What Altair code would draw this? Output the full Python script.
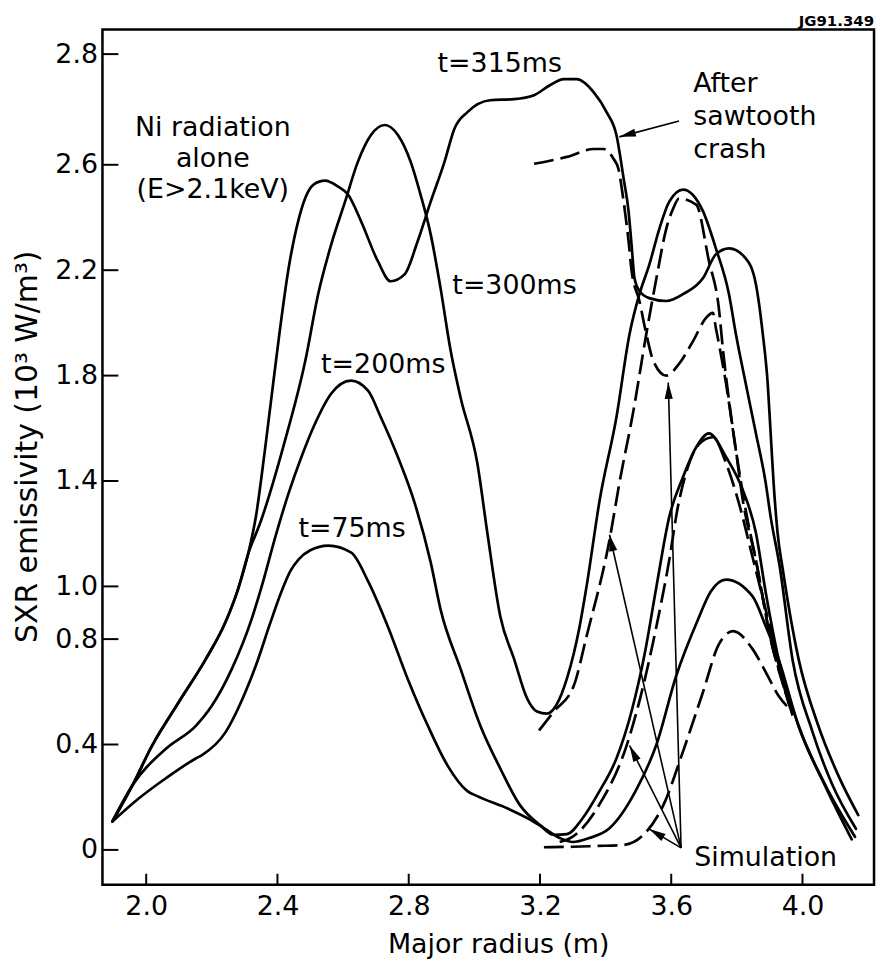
import math
import altair as alt
import pandas as pd

FONT = "DejaVu Sans"
FS = 27

# ---------------- axes ----------------
x_domain = [1.8667, 4.218]
y_domain = [-0.132, 3.113]
x_ticks = [2.0, 2.4, 2.8, 3.2, 3.6, 4.0]
y_ticks = [0, 0.4, 0.8, 1.0, 1.4, 1.8, 2.2, 2.6, 3.02]
y_tick_labels = ["0", "0.4", "0.8", "1.0", "1.4", "1.8", "2.2", "2.6", "2.8"]
W, H = 776, 860

# ---------------- measured curves (solid) ----------------
t75_x = [1.897, 1.978, 2.06, 2.151, 2.17, 2.242, 2.302, 2.34, 2.375, 2.412, 2.44, 2.464, 2.5, 2.555,
         2.625, 2.676, 2.736, 2.797, 2.858, 2.918, 2.979, 3.009, 3.1, 3.161, 3.212, 3.261, 3.3, 3.35,
         3.41, 3.49, 3.555, 3.615, 3.68, 3.72, 3.767, 3.848, 3.888, 3.927, 3.988, 4.07, 4.15]
t75_y = [0.108, 0.196, 0.272, 0.347, 0.36, 0.447, 0.598, 0.72, 0.85, 0.98, 1.06, 1.102, 1.137, 1.155,
         1.128, 1.02, 0.849, 0.649, 0.472, 0.321, 0.223, 0.204, 0.158, 0.121, 0.083, 0.045, 0.03, 0.045,
         0.08, 0.22, 0.4, 0.66, 0.87, 0.98, 1.026, 0.962, 0.849, 0.725, 0.47, 0.24, 0.04]

t200_x = [1.897, 1.958, 2.061, 2.152, 2.2, 2.261, 2.321, 2.352, 2.394, 2.433, 2.473, 2.515, 2.564, 2.624,
          2.676, 2.715, 2.767, 2.818, 2.867, 2.897, 2.958, 3.018, 3.079, 3.139, 3.2, 3.242, 3.282, 3.33,
          3.38, 3.433, 3.48, 3.52, 3.555, 3.594, 3.636, 3.676, 3.715, 3.767, 3.818, 3.858, 3.888, 3.927,
          3.988, 4.07, 4.16]
t200_y = [0.108, 0.245, 0.385, 0.472, 0.547, 0.687, 0.875, 1.0, 1.19, 1.35, 1.491, 1.619, 1.732, 1.781,
          1.743, 1.642, 1.491, 1.317, 1.091, 0.913, 0.687, 0.472, 0.309, 0.17, 0.094, 0.057, 0.06, 0.12,
          0.22, 0.347, 0.53, 0.75, 1.0, 1.264, 1.415, 1.528, 1.581, 1.491, 1.366, 1.204, 0.977, 0.725,
          0.472, 0.245, 0.05]

t300_x = [1.897, 1.958, 2.018, 2.1, 2.182, 2.24, 2.28, 2.31, 2.35, 2.42, 2.485, 2.524, 2.564, 2.606,
          2.645, 2.685, 2.727, 2.767, 2.806, 2.836, 2.867, 2.897, 2.927, 2.958, 3.009, 3.04, 3.079, 3.121,
          3.161, 3.191, 3.221, 3.25, 3.282, 3.321, 3.342, 3.382, 3.433, 3.473, 3.503, 3.533, 3.564, 3.594,
          3.636, 3.697, 3.736, 3.776, 3.797, 3.827, 3.858, 3.888, 3.903, 3.93, 3.97, 4.03, 4.09, 4.163]
t300_y = [0.108, 0.245, 0.396, 0.562, 0.725, 0.86, 0.99, 1.12, 1.25, 1.54, 1.857, 2.109, 2.298, 2.46,
          2.611, 2.713, 2.751, 2.713, 2.611, 2.487, 2.336, 2.132, 1.9, 1.717, 1.468, 1.2, 0.887, 0.725,
          0.574, 0.525, 0.517, 0.55, 0.65, 0.849, 1.0, 1.328, 1.642, 1.958, 2.109, 2.22, 2.358, 2.46,
          2.506, 2.423, 2.283, 2.109, 1.958, 1.77, 1.581, 1.392, 1.264, 1.08, 0.72, 0.45, 0.25, 0.08]

t315_x = [1.897, 1.958, 2.018, 2.1, 2.182, 2.24, 2.28, 2.31, 2.335, 2.36, 2.38, 2.405, 2.433, 2.464,
          2.485, 2.51, 2.545, 2.585, 2.615, 2.655, 2.706, 2.745, 2.788, 2.827, 2.867, 2.909, 2.939, 2.979,
          3.048, 3.121, 3.182, 3.23, 3.273, 3.312, 3.364, 3.403, 3.433, 3.455, 3.47, 3.479, 3.488, 3.503,
          3.533, 3.585, 3.636, 3.697, 3.736, 3.776, 3.827, 3.858, 3.879, 3.894, 3.903, 3.912, 3.924, 3.94,
          3.988, 4.048, 4.109, 4.17]
t315_y = [0.108, 0.245, 0.396, 0.562, 0.725, 0.86, 0.99, 1.12, 1.27, 1.5, 1.7, 1.95, 2.2, 2.39,
          2.475, 2.525, 2.54, 2.517, 2.487, 2.385, 2.234, 2.158, 2.185, 2.309, 2.46, 2.611, 2.736, 2.8,
          2.845, 2.849, 2.864, 2.902, 2.925, 2.925, 2.875, 2.8, 2.713, 2.547, 2.423, 2.298, 2.17, 2.121,
          2.094, 2.083, 2.109, 2.17, 2.26, 2.283, 2.245, 2.147, 1.958, 1.77, 1.581, 1.392, 1.204, 1.064,
          0.725, 0.472, 0.283, 0.132]

# ---------------- simulations (dashed) ----------------
s75_x = [3.212, 3.3, 3.373, 3.455, 3.515, 3.576, 3.636, 3.697, 3.745, 3.788, 3.848, 3.888, 3.927, 3.97]
s75_y = [0.01, 0.012, 0.015, 0.019, 0.057, 0.17, 0.374, 0.6, 0.78, 0.83, 0.762, 0.675, 0.585, 0.525]

s200_x = [3.26, 3.3, 3.38, 3.464, 3.52, 3.555, 3.594, 3.62, 3.645, 3.685, 3.727, 3.767, 3.806, 3.85, 3.9,
          3.948, 3.97]
s200_y = [0.03, 0.05, 0.17, 0.396, 0.65, 0.849, 1.1, 1.3, 1.43, 1.54, 1.566, 1.468, 1.317, 1.1, 0.85,
          0.6, 0.51]

s300_x = [3.197, 3.242, 3.303, 3.342, 3.412, 3.442, 3.485, 3.524, 3.555, 3.585, 3.606, 3.624, 3.676,
          3.715, 3.745, 3.758, 3.776, 3.797, 3.818, 3.858, 3.903, 3.948, 3.964]
s300_y = [0.453, 0.525, 0.623, 0.811, 1.177, 1.392, 1.668, 1.958, 2.17, 2.358, 2.434, 2.472, 2.449,
          2.234, 2.057, 1.894, 1.706, 1.517, 1.328, 1.1, 0.8, 0.6, 0.54]

crash_x = [3.182, 3.282, 3.364, 3.394, 3.424, 3.439, 3.455, 3.47, 3.479, 3.503, 3.524, 3.545, 3.585,
           3.624, 3.667, 3.706, 3.727, 3.736, 3.767, 3.797, 3.827, 3.858, 3.903, 3.948, 3.958]
crash_y = [2.604, 2.63, 2.66, 2.66, 2.623, 2.585, 2.46, 2.31, 2.2, 2.083, 1.958, 1.857, 1.8,
           1.845, 1.932, 2.019, 2.038, 1.981, 1.77, 1.517, 1.29, 1.1, 0.8, 0.6, 0.555]

# ---------------- annotations ----------------
arrow_from_x = [3.63, 3.63, 3.63, 3.63, 3.624]
arrow_from_y = [0.0075, 0.0075, 0.0075, 0.0075, 2.766]
arrow_to_x = [3.473, 3.533, 3.412, 3.591, 3.442]
arrow_to_y = [0.396, 0.079, 1.196, 1.774, 2.706]

left_texts = ["t=315ms", "t=300ms", "t=200ms", "t=75ms", "Simulation", "After", "sawtooth", "crash"]
left_x = [2.888, 2.933, 2.533, 2.464, 3.67, 3.667, 3.667, 3.667]
left_y = [2.951, 2.109, 1.808, 1.189, -0.06, 2.875, 2.751, 2.626]

center_texts = ["Ni radiation", "alone", "(E>2.1keV)"]
center_x = [2.203, 2.203, 2.203]
center_y = [2.709, 2.592, 2.475]

tag_text = ["JG91.349"]
tag_x = [4.218]
tag_y = [3.128]

# ---------------- build tables ----------------
def rows(name, xs, ys):
    return [{"series": name, "i": i, "x": a, "y": b} for i, (a, b) in enumerate(zip(xs, ys))]

solid_df = pd.DataFrame(rows("t75", t75_x, t75_y) + rows("t200", t200_x, t200_y)
                        + rows("t300", t300_x, t300_y) + rows("t315", t315_x, t315_y))
dash_df = pd.DataFrame(rows("s75", s75_x, s75_y) + rows("s200", s200_x, s200_y)
                       + rows("s300", s300_x, s300_y) + rows("crash", crash_x, crash_y))

kx = W / (x_domain[1] - x_domain[0])
ky = H / (y_domain[1] - y_domain[0])
arrows = []
for x1, y1, x2, y2 in zip(arrow_from_x, arrow_from_y, arrow_to_x, arrow_to_y):
    dx = (x2 - x1) * kx
    dys = -(y2 - y1) * ky
    ang = math.degrees(math.atan2(dx, -dys)) % 360
    arrows.append({"x": x1, "y": y1, "x2": x2, "y2": y2, "angle": ang})
arrow_df = pd.DataFrame(arrows)

xs = alt.Scale(domain=x_domain, nice=False, zero=False)
ys = alt.Scale(domain=y_domain, nice=False, zero=False)

label_expr = " : ".join(
    [f"datum.value == {v} ? '{l}'" for v, l in zip(y_ticks, y_tick_labels)] + ["''"])

x_axis = alt.Axis(values=x_ticks, format=".1f", labelPadding=9, tickSize=0, ticks=False, domain=False,
                  grid=False, title="Major radius (m)", titleX=398, titleY=68,
                  titleBaseline="alphabetic", titleAlign="center", titleFontSize=27)
y_axis = alt.Axis(values=y_ticks, labelExpr=label_expr, labelPadding=5, tickSize=0, ticks=False,
                  domain=False, grid=False,
                  title="SXR emissivity  (10³ W/m³)", titleAngle=270, titleX=-66, titleY=419,
                  titleBaseline="alphabetic", titleAlign="center", titleFontSize=30)


def X(field):
    return alt.X(field, scale=xs, axis=x_axis)


def Y(field):
    return alt.Y(field, scale=ys, axis=y_axis)


solid = alt.Chart(solid_df).mark_line(
    color="black", strokeWidth=2.7, interpolate="monotone", strokeJoin="round", strokeCap="round"
).encode(x=X("x:Q"), y=Y("y:Q"), detail="series:N", order="i:Q")

dashed = alt.Chart(dash_df).mark_line(
    color="black", strokeWidth=2.7, interpolate="monotone", strokeDash=[20, 7]
).encode(x=X("x:Q"), y=Y("y:Q"), detail="series:N", order="i:Q")

ytick_df = pd.DataFrame({"x": [x_domain[0]] * len(y_ticks), "y": y_ticks})
xtick_df = pd.DataFrame({"x": x_ticks, "y": [y_domain[0]] * len(x_ticks)})
yticks = alt.Chart(ytick_df).mark_rule(color="black", strokeWidth=2).encode(
    y=Y("y:Q"), x=alt.value(0), x2=alt.value(16))
xticks = alt.Chart(xtick_df).mark_rule(color="black", strokeWidth=2).encode(
    x=X("x:Q"), y=alt.value(H), y2=alt.value(H - 11))

arrow_lines = alt.Chart(arrow_df).mark_rule(color="black", strokeWidth=1.6).encode(
    x=X("x:Q"), y=Y("y:Q"), x2="x2:Q", y2="y2:Q")
arrow_heads = alt.Chart(arrow_df).transform_calculate(
    hx="datum.x2", hy="datum.y2"
).mark_point(
    shape="M0,0 L0.42,1.7 L-0.42,1.7 Z", filled=True, color="black", opacity=1, size=380
).encode(x=X("hx:Q"), y=Y("hy:Q"), angle=alt.Angle("angle:Q", scale=None))

left_df = pd.DataFrame({"t": left_texts, "x": left_x, "y": left_y})
center_df = pd.DataFrame({"t": center_texts, "x": center_x, "y": center_y})
tag_df = pd.DataFrame({"t": tag_text, "x": tag_x, "y": tag_y})

left_txt = alt.Chart(left_df).mark_text(
    font=FONT, fontSize=FS, align="left", baseline="alphabetic", color="black"
).encode(x=X("x:Q"), y=Y("y:Q"), text="t:N")
center_txt = alt.Chart(center_df).mark_text(
    font=FONT, fontSize=FS, align="center", baseline="alphabetic", color="black"
).encode(x=X("x:Q"), y=Y("y:Q"), text="t:N")
tag_txt = alt.Chart(tag_df).mark_text(
    font=FONT, fontSize=15, fontWeight="bold", align="right", baseline="alphabetic", color="black"
).encode(x=X("x:Q"), y=Y("y:Q"), text="t:N")

chart = alt.layer(
    solid, dashed, yticks, xticks, arrow_lines, arrow_heads, left_txt, center_txt, tag_txt
).properties(
    width=W, height=H,
    padding={"left": 95, "top": 19, "right": 4, "bottom": 72},
    autosize=alt.AutoSizeParams(type="none"),
).configure_axis(
    labelFont=FONT, titleFont=FONT, labelFontSize=FS,
    labelColor="black", titleColor="black", titleFontWeight="normal"
).configure_view(
    stroke="black", strokeWidth=2.5
)

chart.save("out.html", embed_options={"renderer": "svg", "actions": False})
